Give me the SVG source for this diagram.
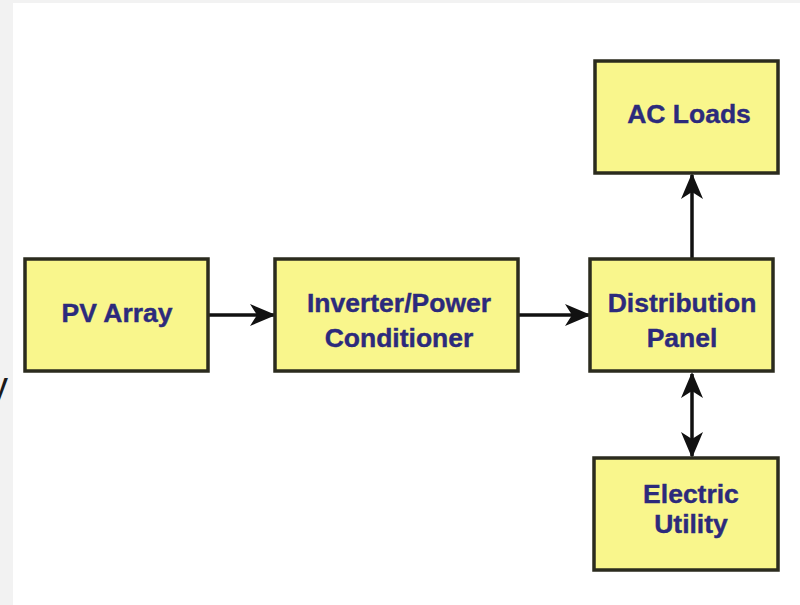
<svg xmlns="http://www.w3.org/2000/svg" width="800" height="605" viewBox="0 0 800 605">
  <defs>
    <style>
      .box { fill: #f9f68c; stroke: #2b2b1e; stroke-width: 3.5; }
      .lbl { font-family: "Liberation Sans", Arial, sans-serif; font-weight: bold; font-size: 26.5px; fill: #2c2a7c; stroke: #2c2a7c; stroke-width: 0.4; text-anchor: middle; }
      .conn { stroke: #111; stroke-width: 3.5; fill: none; }
    </style>
    <marker id="ah" viewBox="0 0 26 22" refX="24" refY="11" markerWidth="26" markerHeight="22" markerUnits="userSpaceOnUse" orient="auto-start-reverse">
      <path d="M0,0 L26,11 L0,22 L7,11 z" fill="#111"/>
    </marker>
  </defs>
  <rect x="0" y="0" width="800" height="605" fill="#f2f2f2"/>
  <rect x="13" y="3" width="787" height="602" fill="#ffffff"/>
  <text x="-11" y="399" font-family="Liberation Sans, Arial, sans-serif" font-size="38" fill="#1a1a1a">y</text>

  <g id="connectors">
    <line class="conn" x1="208" y1="315" x2="274" y2="315" marker-end="url(#ah)"/>
    <line class="conn" x1="518" y1="315" x2="589" y2="315" marker-end="url(#ah)"/>
    <line class="conn" x1="692" y1="258" x2="692" y2="175" marker-end="url(#ah)"/>
    <line class="conn" x1="692" y1="374" x2="692" y2="456" marker-start="url(#ah)" marker-end="url(#ah)"/>
  </g>

  <g id="pv-array">
    <rect class="box" x="25" y="259" width="183" height="112"/>
    <text class="lbl" x="117" y="322">PV Array</text>
  </g>
  <g id="inverter">
    <rect class="box" x="275" y="259" width="243" height="112"/>
    <text class="lbl" x="399" y="312">Inverter/Power</text>
    <text class="lbl" x="399" y="347">Conditioner</text>
  </g>
  <g id="distribution-panel">
    <rect class="box" x="590" y="259" width="183" height="112"/>
    <text class="lbl" x="682" y="312">Distribution</text>
    <text class="lbl" x="682" y="347">Panel</text>
  </g>
  <g id="ac-loads">
    <rect class="box" x="595" y="61" width="183" height="112"/>
    <text class="lbl" x="689" y="123">AC Loads</text>
  </g>
  <g id="electric-utility">
    <rect class="box" x="594" y="458" width="184" height="112"/>
    <text class="lbl" x="691" y="503">Electric</text>
    <text class="lbl" x="691" y="533">Utility</text>
  </g>
</svg>
